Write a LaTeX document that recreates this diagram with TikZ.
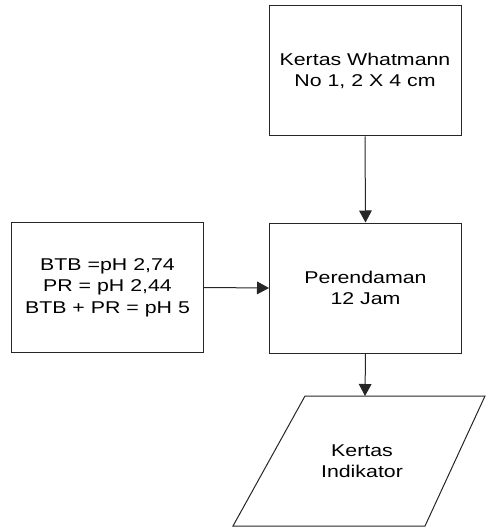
\documentclass[tikz,border=0pt]{standalone}
\usepackage{fontspec}
\setmainfont{Liberation Sans}[FakeStretch=1.25]
\usepackage{tikz}
\usetikzlibrary{arrows.meta}

\begin{document}
\begin{tikzpicture}[x=0.75pt, y=-0.75pt, >={Triangle[width=9.5pt,length=9pt]},
                    line width=0.75pt, font=\fontsize{12.8pt}{16pt}\selectfont]

\tikzstyle{box}  = [rectangle, draw=black!85, minimum width=144pt,
                     minimum height=97.5pt, inner sep=0pt, align=center]
\tikzstyle{link} = [draw=black!85, ->]

\useasboundingbox (0,0) rectangle (486,527);

% ── Boxes ─────────────────────────────────────────────
\node[box] (kertas) at (365,71)    {Kertas Whatmann\\No 1, 2 X 4 cm};
\node[box] (rendam) at (365.5,288) {Perendaman\\12 Jam};
\node[box] (larut)  at (107.5,287.5) {BTB =pH 2,74\\PR = pH 2,44\\BTB + PR = pH 5};

% ── Output: parallelogram ────────────────────────────
\draw[draw=black!85] (305,396) -- (485,396) -- (425,526) -- (233,526) -- cycle;
\coordinate (hasiltop) at (365,396);
\node[align=center] (hasil) at (362,461) {Kertas\\Indikator};

% ── Arrows ───────────────────────────────────────────
\draw[link] (kertas.south) -- (rendam.north);
\draw[link] (larut.east)   -- (rendam.west);
\draw[link] (rendam.south) -- (hasiltop);

\end{tikzpicture}
\end{document}
